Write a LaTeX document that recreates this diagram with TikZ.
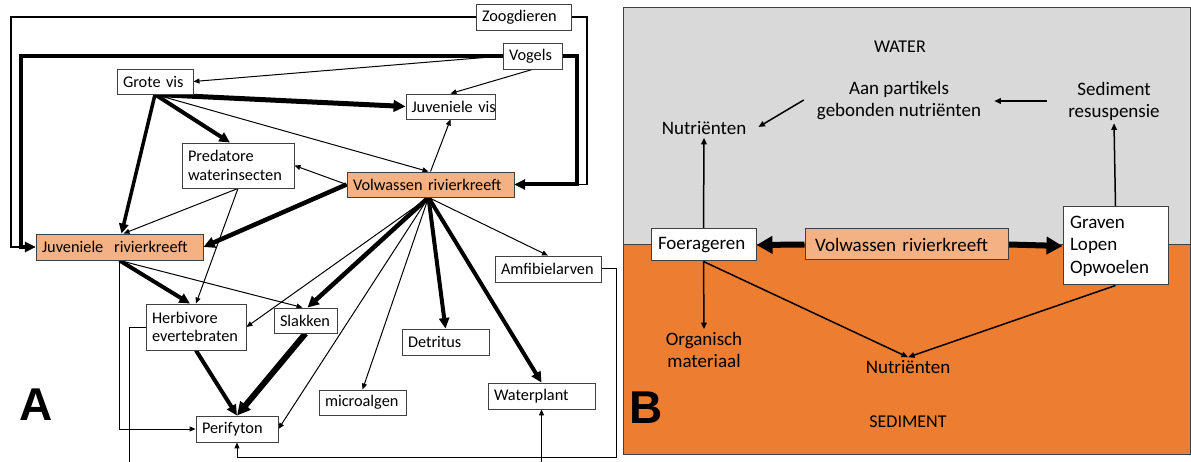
\documentclass[tikz,border=0pt]{standalone}
\usepackage{fontspec}
\setmainfont{Carlito}
\newfontfamily\labfont{Liberation Sans}
\usetikzlibrary{arrows.meta,calc}
\definecolor{lorange}{HTML}{F4B183}
\definecolor{dorange}{HTML}{ED7D31}
\definecolor{wgray}{HTML}{D9D9D9}
\definecolor{bord}{HTML}{404040}
\pgfdeclarelayer{back}
\pgfdeclarelayer{edges}
\pgfsetlayers{back,edges,main}
\begin{document}
\begin{tikzpicture}[x=1pt,y=-1pt,
 abox/.style={draw=bord, line width=0.9pt, fill=white, inner xsep=6pt, inner ysep=0pt, align=left, font=\fontsize{16.3}{18.7}\selectfont},
 obox/.style={abox, fill=lorange},
 bbox/.style={draw=bord, line width=1pt, fill=white, inner xsep=7pt, inner ysep=0pt, align=left, font=\fontsize{19}{22.5}\selectfont},
 btext/.style={inner sep=3pt, align=center, font=\fontsize{19}{22}\selectfont},
 tarr/.style={line width=1pt, -{Triangle[length=6pt,width=5pt]}},
 karr/.style={line width=#1, -{Triangle[length=5pt 1.4,width=4pt 1.5]}},
 loopline/.style={line width=1.3pt, -{Triangle[length=6pt,width=5pt]}},
 barr/.style={line width=1.5pt, -{Triangle[length=6.5pt,width=5.5pt]}},
 bkarr/.style={line width=6pt, -{Triangle[length=16pt,width=17pt]}},
 panellab/.style={font=\labfont\bfseries\fontsize{46}{46}\selectfont, inner sep=0pt}
]
\useasboundingbox (0,0) rectangle (1191,462);

% ---------- Panel B background ----------
\begin{pgfonlayer}{back}
\fill[wgray] (623,8) rectangle (1190,244);
\fill[dorange] (623,244) rectangle (1190,454);
\draw[bord, line width=1pt] (623,8) rectangle (1190,454);
\draw[bord, line width=0.8pt] (623,244) -- (1190,244);
\end{pgfonlayer}

% ---------- Panel A nodes ----------
\node[abox, text width=83pt, minimum height=26pt] (zoog) at (523.5,17) {Zoogdieren};
\node[abox, text width=47pt, minimum height=26pt] (vogels) at (532.5,56) {Vogels};
\node[abox, text width=64pt, minimum height=25pt] (grote) at (155,81.5) {Grote~vis};
\node[abox, inner xsep=5.5pt, text width=78pt, minimum height=25pt] (juvvis) at (450.5,106.5) {Juveniele~vis};
\node[abox, text width=100pt, minimum height=45pt] (pred) at (238,165.5) {Predatore\\waterinsecten};
\node[obox, text width=155pt, minimum height=25pt] (volw) at (430.5,184.5) {Volwassen~rivierkreeft};
\node[obox, text width=155pt, minimum height=26pt] (juvkr) at (119.5,247) {Juveniele~~rivierkreeft};
\node[abox, text width=94pt, minimum height=26pt] (amfib) at (548,269) {Amfibielarven};
\node[abox, text width=88pt, minimum height=46pt] (herb) at (196,327) {Herbivore\\evertebraten};
\node[abox, text width=51pt, minimum height=25pt] (slak) at (305.5,320.5) {Slakken};
\node[abox, text width=75pt, minimum height=26pt] (detr) at (445.5,342) {Detritus};
\node[abox, text width=95pt, minimum height=26pt] (waterpl) at (541.5,396) {Waterplant};
\node[abox, text width=75pt, minimum height=25pt] (micro) at (362.5,402.5) {microalgen};
\node[abox, text width=70pt, minimum height=26pt] (peri) at (237,429) {Perifyton};
\coordinate (hexit) at (129,462);
\coordinate (wentry) at (541.5,462);
\coordinate (vs) at ($(volw.south)+(-2,0)$);

\node[panellab] (labA) at (36,405) {A};

% ---------- Panel A edges ----------
\begin{pgfonlayer}{edges}
\draw[loopline] (zoog.west) -- (11,17) |- (juvkr.west);
\draw[loopline] (zoog.east) -- (587,17) |- (volw.east);
\draw[karr=4pt] (vogels.west) -- (21,56) |- (juvkr.west);
\draw[karr=4pt] (vogels.east) -- (577,56) |- (volw.east);
\draw[tarr] (vogels.west) -- (grote.east);
\draw[tarr] (vogels.south) -- (juvvis.north);

\draw[karr=5pt] (grote.south) -- (juvvis.west);
\draw[karr=4pt] (grote.south) -- ($(pred.north)+(-8,0)$);
\draw[karr=3.5pt] (grote.south) -- ($(juvkr.north)+(2,0)$);
\draw[tarr] (grote.south) -- ($(volw.north)+(-2,0)$);

\draw[tarr] (volw.north) -- (juvvis.south);
\draw[tarr] (volw.west) -- (pred.east);
\draw[karr=4.5pt] (volw.west) -- (juvkr.east);

\draw[tarr] (pred.south) -- ($(juvkr.north)+(4,0)$);
\draw[tarr] (pred.south) -- (herb.north);

\draw[karr=4pt] (juvkr.south) -- ($(herb.north)+(-6,0)$);
\draw[tarr] (juvkr.south) -- ($(slak.north)+(-3,0)$);
\draw[tarr] (juvkr.south) |- (peri.west);

\draw[line width=1pt] (herb.west) -| (hexit);
\draw[karr=4pt] (herb.south) -- (peri.north);
\draw[karr=6pt] (slak.south) -- (peri.north);

\draw[karr=4.5pt] (vs) -- ($(slak.north)+(2,0)$);
\draw[tarr] (vs) -- (herb.east);
\draw[tarr] (vs) -- (peri.east);
\draw[tarr] (vs) -- (micro.north);
\draw[karr=4pt] (vs) -- (detr.north);
\draw[karr=4pt] (vs) -- (waterpl.north);
\draw[tarr] (vs) -- (amfib.north);

\draw[tarr] (amfib.east) -- (616,269) -- (616,457) -| (peri.south);
\draw[tarr] (wentry) -- (waterpl.south);
\end{pgfonlayer}

% ---------- Panel B nodes ----------
\node[btext, font=\fontsize{18}{22}\selectfont] (water) at (900,47) {WATER};
\node[btext] (aan) at (899,101) {Aan partikels\\gebonden nutriënten};
\node[btext] (sedres) at (1114,101) {Sediment\\resuspensie};
\node[btext] (nutw) at (704,128) {Nutriënten};
\node[bbox, text width=91pt, minimum height=32pt] (foer) at (703.5,245) {Foerageren};
\node[bbox, fill=lorange, inner xsep=10pt, text width=183pt, minimum height=31pt] (volwb) at (906.5,244.5) {Volwassen~rivierkreeft};
\node[bbox, text width=91pt, minimum height=78pt] (graven) at (1115.5,246) {Graven\\Lopen\\Opwoelen};
\node[btext] (org) at (704,350) {Organisch\\materiaal};
\node[btext] (nuts) at (908,367) {Nutriënten};
\node[btext, font=\fontsize{18}{22}\selectfont] (sedlab) at (908,422) {SEDIMENT};
\node[panellab] (labB) at (646,408) {B};

% ---------- Panel B edges ----------
\begin{pgfonlayer}{edges}
\draw[bkarr] (volwb.west) -- (foer.east);
\draw[bkarr] (volwb.east) -- (graven.west);
\draw[barr] (foer.north) -- (nutw.south);
\draw[barr] (foer.south) -- (org.north);
\draw[barr] (foer.south) -- (nuts.north);
\draw[barr] (graven.south) -- (nuts.north);
\draw[barr] (graven.north) -- (sedres.south);
\draw[barr] ($(sedres.west)+(-18,0)$) -- ($(aan.east)+(10,0)$);
\draw[barr] ($(aan.west)+(-10,-1)$) -- ($(nutw.east)+(9,-1)$);
\end{pgfonlayer}
\end{tikzpicture}
\end{document}
